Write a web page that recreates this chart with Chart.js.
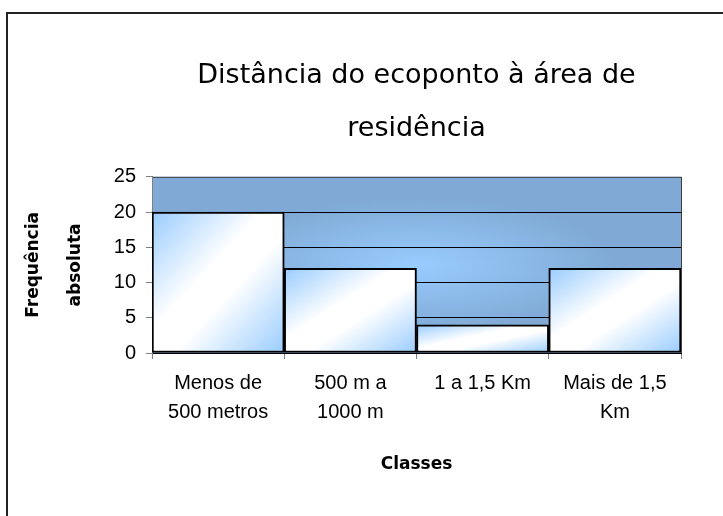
<!DOCTYPE html>
<html>
<head>
<meta charset="utf-8">
<script src="https://cdn.jsdelivr.net/npm/chart.js@4.4.0/dist/chart.umd.min.js"></script>
<style>
  body { margin: 0; background: #fff; }
  #wrap { position: relative; width: 723px; height: 516px; }
</style>
</head>
<body>
<div id="wrap"><canvas id="chart"></canvas></div>
<script>
// data
const classes = [
  ['Menos de', '500 metros'],
  ['500 m a', '1000 m'],
  ['1 a 1,5 Km'],
  ['Mais de 1,5', 'Km']
];
const frequencies = [20, 12, 4, 12];
const chartTitle = ['Distância do ecoponto à área de', 'residência'];
const yTitle = ['Frequência', 'absoluta'];
const xTitle = 'Classes';

// outer frame (only left + top edges fall inside the picture)
const frame = {
  id: 'frame',
  beforeDraw(chart) {
    const ctx = chart.ctx;
    ctx.save();
    ctx.strokeStyle = '#222';
    ctx.lineWidth = 2;
    ctx.strokeRect(7, 13, 900, 700);
    ctx.restore();
  }
};

// blue "from center" fill of the plot area + its border
const plotBg = {
  id: 'plotBg',
  beforeDraw(chart) {
    const { ctx, chartArea: a } = chart;
    if (!a) return;
    const w = a.right - a.left, h = a.bottom - a.top;
    ctx.save();
    ctx.beginPath();
    ctx.rect(a.left, a.top, w, h);
    ctx.clip();
    ctx.translate(a.left + w / 2, a.top + h * 0.5);
    ctx.scale(w / 2, h / 2);
    const g = ctx.createRadialGradient(0, 0, 0, 0, 0, 1);
    g.addColorStop(0, '#99ccff');
    g.addColorStop(0.75, '#80aad5');
    g.addColorStop(1, '#80aad5');
    ctx.fillStyle = g;
    ctx.fillRect(-1.5, -1.5, 3, 3);
    ctx.restore();
    ctx.save();
    ctx.strokeStyle = '#404040';
    ctx.lineWidth = 1;
    ctx.strokeRect(a.left + 0.5, a.top + 0.5, w, h);
    ctx.restore();
  }
};

// diagonal white band gradient for each bar
function barFill(c) {
  const chart = c.chart;
  if (!chart.chartArea || c.dataIndex === undefined) return '#cfe6ff';
  const xs = chart.scales.x, ys = chart.scales.y;
  const cw = xs.width / classes.length;
  const left = xs.getPixelForValue(c.dataIndex) - cw / 2;
  const top = ys.getPixelForValue(frequencies[c.dataIndex]);
  const bottom = ys.getPixelForValue(0);
  const w = cw, h = bottom - top;
  const k = 2 / (1 / (w * w) + 1 / (h * h));
  const g = chart.ctx.createLinearGradient(left, top, left + k / w, top + k / h);
  g.addColorStop(0, '#99ccff');
  g.addColorStop(0.42, '#ffffff');
  g.addColorStop(0.58, '#ffffff');
  g.addColorStop(1, '#99ccff');
  return g;
}

new Chart(document.getElementById('chart'), {
  type: 'bar',
  data: {
    labels: classes,
    datasets: [{
      data: frequencies,
      backgroundColor: barFill,
      borderColor: '#000',
      borderWidth: 2,
      borderSkipped: false,
      barPercentage: 1,
      categoryPercentage: 1
    }]
  },
  options: {
    responsive: true,
    maintainAspectRatio: false,
    animation: false,
    layout: { padding: { left: 10, right: 42, top: 20, bottom: 40 } },
    plugins: {
      legend: { display: false },
      tooltip: { enabled: false },
      title: {
        display: true,
        fullSize: false,
        text: chartTitle,
        color: '#000',
        font: { family: 'DejaVu Sans', size: 27, weight: 'normal', lineHeight: 1.96 },
        padding: { top: 30, bottom: 21 }
      }
    },
    scales: {
      x: {
        afterFit(s) { s.height = 123; },
        grid: { drawOnChartArea: false, color: '#808080', tickLength: 6 },
        border: { color: '#000' },
        ticks: {
          color: '#000',
          padding: 10,
          maxRotation: 0,
          font: { family: 'Liberation Sans', size: 20, lineHeight: 1.45 }
        },
        title: {
          display: true,
          text: xTitle,
          color: '#000',
          padding: { top: 0, bottom: 1 },
          font: { family: 'DejaVu Sans', size: 17, weight: 'bold' }
        }
      },
      y: {
        min: 0,
        max: 25,
        afterFit(s) { s.width = 142; },
        grid: {
          color: c => (c.tick && (c.tick.value === 0 || c.tick.value === 25)) ? 'rgba(0,0,0,0)' : '#000',
          tickColor: '#808080',
          tickLength: 6
        },
        border: { color: '#808080' },
        ticks: {
          stepSize: 5,
          color: '#000',
          padding: 10,
          font: { family: 'Liberation Sans', size: 20 }
        },
        title: {
          display: true,
          text: yTitle,
          color: '#000',
          padding: { top: 2, bottom: 0 },
          font: { family: 'DejaVu Sans', size: 17, weight: 'bold', lineHeight: 2.5 }
        }
      }
    }
  },
  plugins: [frame, plotBg]
});
</script>
</body>
</html>
